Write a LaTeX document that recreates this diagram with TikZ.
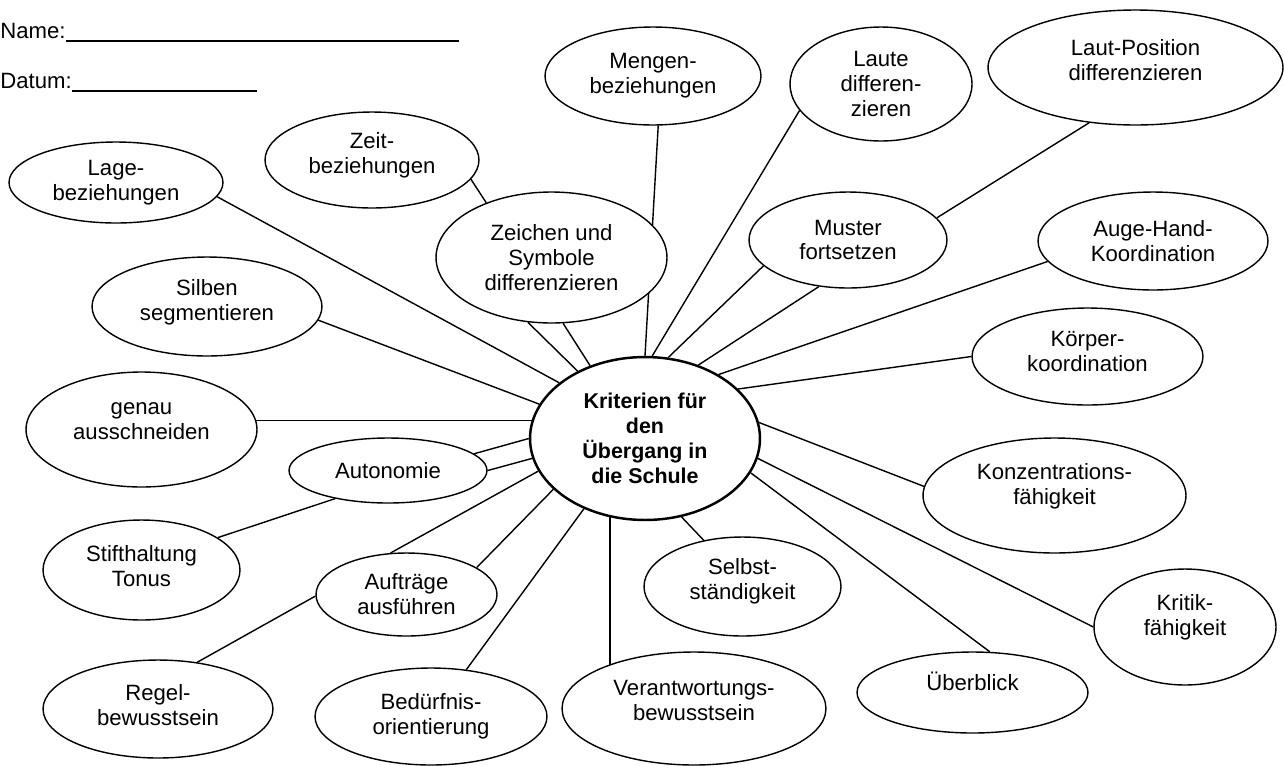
\documentclass[tikz,border=0pt]{standalone}
\usepackage{fontspec}
\setmainfont{Liberation Sans}
\usetikzlibrary{
    shapes.geometric,
    backgrounds
}

\begin{document}
\begin{tikzpicture}[
    x=0.02cm, y=-0.02cm,
    font=\fontsize{12.6}{14.2}\selectfont,
    % ── Node Styles ──
    bub/.style={
        ellipse, draw, line width=0.8pt, fill=white,
        inner sep=0pt, align=center
    },
    hub/.style={
        bub, line width=1.4pt,
        font=\fontsize{12.2}{14.2}\selectfont\bfseries
    },
    lift/.style={text depth=#1},
    hdr/.style={anchor=base west, inner sep=0pt},
    % ── Line Styles ──
    ln/.style={line width=0.8pt},
]
\useasboundingbox (0,0) rectangle (1284,765);

% ────────────────────────────────
%  HEADER
% ────────────────────────────────
\node[hdr] (name) at (0,38) {Name:};
\coordinate (nameend) at (459,41);
\draw[ln] (name.base east |- nameend) -- (nameend);

\node[hdr] (datum) at (0,88) {Datum:};
\coordinate (datumend) at (257,91);
\draw[ln] (datum.base east |- datumend) -- (datumend);

% ────────────────────────────────
%  CENTRE
% ────────────────────────────────
\node[hub, minimum width=4.6cm, minimum height=3.26cm] (crit) at (645,438.5)
    {Kriterien für\\den\\Übergang in\\die Schule};

% ────────────────────────────────
%  UPPER BUBBLES
% ────────────────────────────────
\node[bub, minimum width=4.32cm, minimum height=1.96cm] (mengen) at (653,76)
    {Mengen-\\beziehungen};
\node[bub, minimum width=3.64cm, minimum height=2.28cm] (laute) at (881,84)
    {Laute\\differen-\\zieren};
\node[bub, lift=9pt, minimum width=5.9cm, minimum height=2.3cm] (lautpos) at (1135.5,67.5)
    {Laut-Position\\differenzieren};
\node[bub, lift=8pt, minimum width=4.28cm, minimum height=1.92cm] (zeit) at (372,160)
    {Zeit-\\beziehungen};
\node[bub, minimum width=4.28cm, minimum height=1.62cm] (lage) at (116,182.5)
    {Lage-\\beziehungen};
\node[bub, minimum width=4.62cm, minimum height=2.62cm] (zeichen) at (551.5,257.5)
    {Zeichen und\\Symbole\\differenzieren};
\node[bub, minimum width=3.96cm, minimum height=1.92cm] (muster) at (848,240)
    {Muster\\fortsetzen};
\node[bub, minimum width=4.6cm, minimum height=1.96cm] (auge) at (1153,241)
    {Auge-Hand-\\Koordination};
\node[bub, lift=7.6pt, minimum width=4.6cm, minimum height=1.98cm] (silben) at (207,306.5)
    {Silben\\segmentieren};
\node[bub, lift=5.7pt, minimum width=4.62cm, minimum height=1.94cm] (koerper) at (1087.5,356.5)
    {Körper-\\koordination};

% ────────────────────────────────
%  LOWER BUBBLES
% ────────────────────────────────
\node[bub, lift=10pt, minimum width=4.62cm, minimum height=2.3cm] (genau) at (141.5,429.5)
    {genau\\ausschneiden};
\node[bub, minimum width=3.96cm, minimum height=1.3cm] (auto) at (388,470.5)
    {Autonomie};
\node[bub, lift=12.7pt, minimum width=5.26cm, minimum height=2.3cm] (konz) at (1054.5,495.5)
    {Konzentrations-\\fähigkeit};
\node[bub, lift=4.5pt, minimum width=3.94cm, minimum height=2cm] (stift) at (141.5,570)
    {Stifthaltung\\Tonus};
\node[bub, lift=8.7pt, minimum width=3.94cm, minimum height=1.98cm] (selbst) at (742.5,586.5)
    {Selbst-\\ständigkeit};
\node[bub, minimum width=3.62cm, minimum height=1.66cm] (auftr) at (406.5,594.5)
    {Aufträge\\ausführen};
\node[bub, lift=13.8pt, minimum width=3.64cm, minimum height=2.32cm] (kritik) at (1185,627)
    {Kritik-\\fähigkeit};
\node[bub, lift=12.5pt, minimum width=4.62cm, minimum height=1.62cm] (ueber) at (972.5,692.5)
    {Überblick};
\node[bub, lift=4.5pt, minimum width=4.6cm, minimum height=1.96cm] (regel) at (158,709)
    {Regel-\\bewusstsein};
\node[bub, minimum width=4.64cm, minimum height=1.94cm] (beduerf) at (431,716.5)
    {Bedürfnis-\\orientierung};
\node[bub, lift=9pt, minimum width=5.28cm, minimum height=2.26cm] (verant) at (694,708.5)
    {Verantwortungs-\\bewusstsein};

% ────────────────────────────────
%  LINKS (behind the bubbles)
% ────────────────────────────────
\begin{scope}[on background layer]
    % left side
    \draw[ln] (lage.-8.5) -- (crit.147);
    \draw[ln] (silben.-7.8) -- (crit.162.8);
    \draw[ln] (crit.171.7) -- (crit.171.7 -| genau);
    \draw[ln] (auto.11) -- (crit.180);
    \draw[ln] (auto.0) -- (crit.-170.4);
    \draw[ln] (auto.-152.2) -- (stift.23.4);
    \draw[ln] (auftr.111.7) -- (crit.-163.3);
    \draw[ln] (auftr.21.9) -- (crit.-151.5);
    \draw[ln] (auftr.181) -- (regel.50);
    \draw[ln] (beduerf.53.8) -- (crit.-131.4);
    \draw[ln] (crit.-114.3) -- (crit.-114.3 |- verant);
    % top
    \draw[ln] (zeit.-11.2) -- (zeichen.140.2);
    \draw[ln] (zeichen.-110) -- (crit.135.6);
    \draw[ln] (zeichen.-80.9) -- (crit.127.5);
    \draw[ln] (mengen.-84.2) -- (crit.90.7);
    \draw[ln] (laute.-162.6) -- (crit.85.2);
    \draw[ln] (muster.-163.6) -- (crit.74.6);
    \draw[ln] (muster.-122.6) -- (crit.54.3);
    \draw[ln] (lautpos.-130.6) -- (muster.14.8);
    % right side
    \draw[ln] (auge.-169.1) -- (crit.41.6);
    \draw[ln] (koerper.180) -- (crit.28);
    \draw[ln] (konz.176.3) -- (crit.8.2);
    \draw[ln] (kritik.180) -- (crit.-10.7);
    \draw[ln] (ueber.67.8) -- (crit.-18.7);
    \draw[ln] (selbst.130.2) -- (crit.-65);
\end{scope}

\end{tikzpicture}
\end{document}
